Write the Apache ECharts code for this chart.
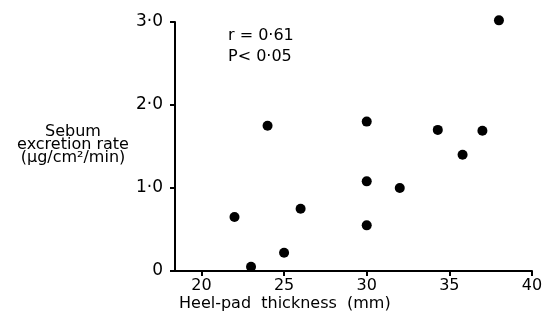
<!DOCTYPE html>
<html>
<head>
<meta charset="utf-8">
<script src="https://cdn.jsdelivr.net/npm/echarts@6/dist/echarts.min.js"></script>
<style>
  html, body { margin: 0; padding: 0; background: #fff; }
  #chart { width: 547px; height: 321px; }
</style>
</head>
<body>
<div id="chart"></div>
<script>
// heel-pad thickness (mm) vs sebum excretion rate
const thickness = [22, 23, 24, 25, 26, 30, 30, 30, 32, 34.3, 35.8, 37, 38];
const sebumRate = [0.65, 0.05, 1.75, 0.22, 0.75, 1.8, 1.08, 0.55, 1.0, 1.7, 1.4, 1.69, 3.02];
const xTicks = [20, 25, 30, 35, 40];
const yTicks = [0, 1, 2, 3];
const statsLines = ["r = 0·61", "P< 0·05"];
const yTitleLines = ["Sebum", "excretion rate", "(µg/cm²/min)"];

const font = "DejaVu Sans";
const chart = echarts.init(document.getElementById("chart"));

const points = thickness.map((x, i) => [x, sebumRate[i]]);

chart.setOption({
  animation: false,
  grid: { left: 175, right: 15, top: 22, bottom: 50 },
  xAxis: {
    type: "value",
    min: 18.4,
    max: 40,
    name: "Heel-pad  thickness  (mm)",
    nameLocation: "start",
    nameGap: 0,
    nameTextStyle: {
      fontFamily: font,
      fontSize: 16,
      color: "#000",
      align: "left",
      verticalAlign: "top",
      padding: [25, 0, 0, 4],
    },
    axisLine: { lineStyle: { color: "#000", width: 2 } },
    axisTick: {
      customValues: xTicks,
      length: 5,
      lineStyle: { color: "#000", width: 2 },
    },
    axisLabel: {
      customValues: xTicks,
      fontFamily: font,
      fontSize: 16,
      color: "#000",
      margin: 7,
    },
    splitLine: { show: false },
  },
  yAxis: {
    type: "value",
    min: 0,
    max: 3,
    interval: 1,
    axisLine: { show: true, lineStyle: { color: "#000", width: 2 } },
    axisTick: { show: true, length: 5, lineStyle: { color: "#000", width: 2 } },
    axisLabel: {
      fontFamily: font,
      fontSize: 17,
      color: "#000",
      margin: 12,
      formatter: (v) => (v === 0 ? "0" : v.toFixed(1).replace(".", "·")),
    },
    splitLine: { show: false },
  },
  graphic: [
    {
      type: "text",
      left: 228,
      top: 25,
      style: {
        text: statsLines.join("\n"),
        font: "16px " + font,
        fill: "#000",
        lineHeight: 21,
      },
    },
    {
      type: "text",
      x: 73,
      y: 125,
      style: {
        text: yTitleLines.join("\n"),
        font: "16px " + font,
        fill: "#000",
        align: "center",
        verticalAlign: "top",
        lineHeight: 13,
      },
    },
  ],
  series: [
    {
      type: "scatter",
      data: points,
      symbolSize: 10,
      clip: false,
      itemStyle: { color: "#000", opacity: 1 },
    },
  ],
});
</script>
</body>
</html>
